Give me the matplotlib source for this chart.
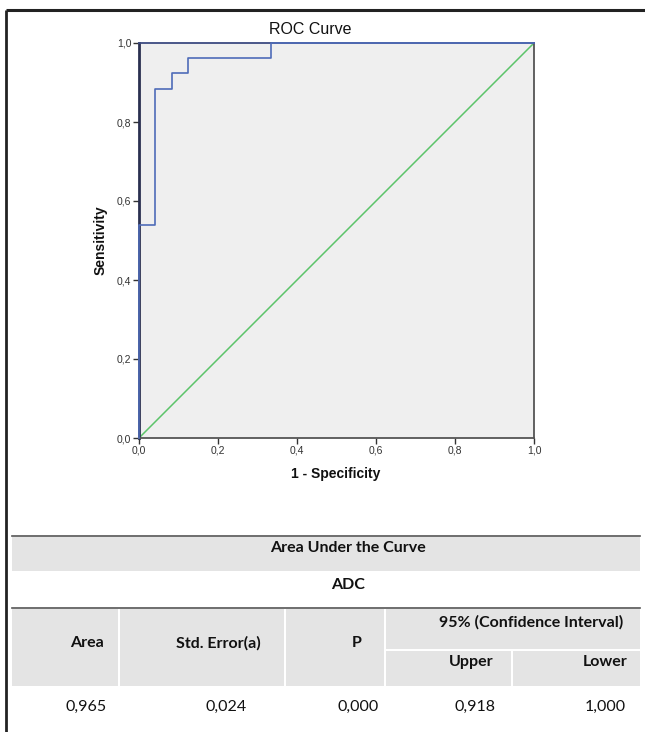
import matplotlib
matplotlib.use("Agg")
import matplotlib.pyplot as plt
from matplotlib.patches import Rectangle

# ---- data ----
fpr = [0.0, 0.0, 1/24, 1/24, 2/24, 2/24, 3/24, 3/24, 8/24, 8/24, 1.0]
tpr = [0.0, 14/26, 14/26, 23/26, 23/26, 24/26, 24/26, 25/26, 25/26, 1.0, 1.0]
ref_x = [0.0, 1.0]
ref_y = [0.0, 1.0]
ticks = [0.0, 0.2, 0.4, 0.6, 0.8, 1.0]
tick_labels = ["0,0", "0,2", "0,4", "0,6", "0,8", "1,0"]

table_title = "Area Under the Curve"
table_sub = "ADC"
col_headers = ["Area", "Std. Error(a)", "P"]
ci_header = "95% (Confidence Interval)"
ci_sub = ["Upper", "Lower"]
values = ["0,965", "0,024", "0,000", "0,918", "1,000"]

W, H = 645, 732
fig = plt.figure(figsize=(W/100, H/100), dpi=100)

# ---- ROC axes ----
x0, x1, ytop, ybot = 139, 534, 43, 438
ax = fig.add_axes([x0/W, (H-ybot)/H, (x1-x0)/W, (ybot-ytop)/H])
ax.set_facecolor("#efefef")
ax.plot(ref_x, ref_y, color="#5cc46a", lw=1.1, zorder=2)
ax.plot(fpr, tpr, color="#4f6cb8", lw=1.2, zorder=3, clip_on=False)
ax.set_xlim(0, 1)
ax.set_ylim(0, 1)
ax.set_xticks(ticks)
ax.set_yticks(ticks)
ax.set_xticklabels(tick_labels, family="Liberation Sans", fontsize=7.5, color="#333333")
ax.set_yticklabels(tick_labels, family="Liberation Sans", fontsize=7.5, color="#333333")
ax.tick_params(direction="out", length=4, width=1, color="#333333", pad=1.5)
for s in ax.spines.values():
    s.set_color("#555555")
    s.set_linewidth(1.3)
ax.spines["left"].set_color("#2a3050")
ax.spines["left"].set_linewidth(2)
ax.spines["top"].set_color("#3c4a80")

# ---- overlay in pixel coordinates ----
ov = fig.add_axes([0, 0, 1, 1], zorder=-1)
ov.set_xlim(0, W)
ov.set_ylim(H, 0)
ov.axis("off")
ov2 = fig.add_axes([0, 0, 1, 1], zorder=5)
ov2.set_xlim(0, W)
ov2.set_ylim(H, 0)
ov2.axis("off")
ov2.patch.set_alpha(0)

# outer frame
ov2.plot([6, W], [10, 10], color="#222222", lw=2.2, solid_capstyle="butt")
ov2.plot([6, 6], [10, H], color="#222222", lw=2.0, solid_capstyle="butt")

# chart texts
ov2.text(310, 30, "ROC Curve", ha="center", va="center", family="Liberation Sans",
         fontsize=11.5, color="#111111")
ov2.text(101, 240, "Sensitivity", ha="center", va="center", rotation=90,
         family="Liberation Sans", fontsize=10, fontweight="bold", color="#111111")
ov2.text(336, 474, "1 - Specificity", ha="center", va="center",
         family="Liberation Sans", fontsize=10, fontweight="bold", color="#111111")

# ---- table ----
gray = "#e4e4e4"
L, R = 12, 640
ov.add_patch(Rectangle((L, 537), R-L, 34, color=gray, lw=0))
ov2.plot([L, R], [535.5, 535.5], color="#555555", lw=1.2)
ov2.plot([L, R], [607.5, 607.5], color="#555555", lw=1.2)
# header cells
cells = [(L, 118), (120, 284), (286, 384)]
for a, b in cells:
    ov.add_patch(Rectangle((a, 609), b-a, 77, color=gray, lw=0))
ov.add_patch(Rectangle((386, 609), R-386, 40, color=gray, lw=0))
ov.add_patch(Rectangle((386, 651), 511-386, 35, color=gray, lw=0))
ov.add_patch(Rectangle((513, 651), R-513, 35, color=gray, lw=0))

tf = dict(family="Lato", fontsize=11.5, color="#111111", va="center", ha="center")
ov2.text(348, 548, table_title, fontweight="bold", **tf)
ov2.text(348, 585, table_sub, fontweight="bold", **tf)
for xc, t in zip([87, 218, 357], col_headers):
    ov2.text(xc, 643, t, fontweight="bold", **tf)
ov2.text(531, 622, ci_header, fontweight="bold", **tf)
for xc, t in zip([471, 605], ci_sub):
    ov2.text(xc, 662, t, fontweight="bold", **tf)
for xc, t in zip([86, 226, 358, 475, 605], values):
    ov2.text(xc, 707, t, **tf)

fig.savefig("out.png", dpi=100)
